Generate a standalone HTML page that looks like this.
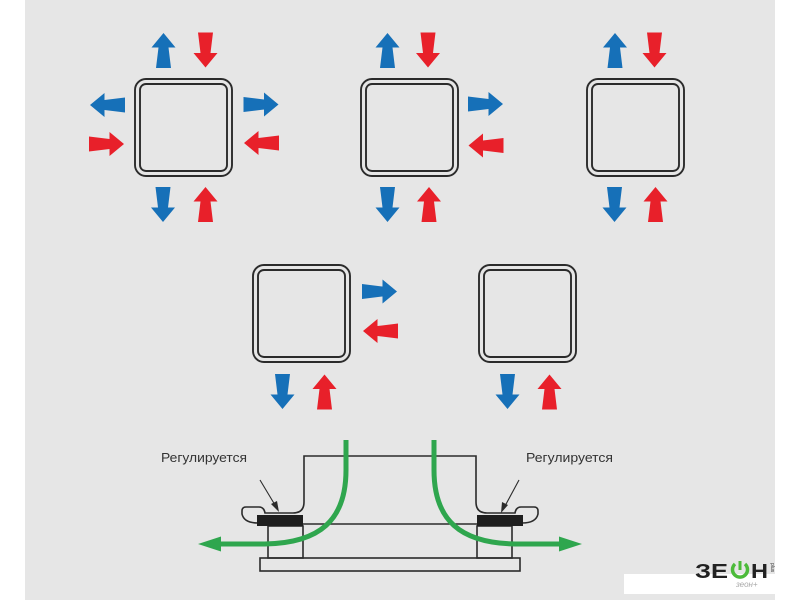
<!DOCTYPE html>
<html><head><meta charset="utf-8"><style>
html,body{margin:0;padding:0;background:#fff;}
svg{display:block;}
</style></head><body>
<svg width="800" height="600" viewBox="0 0 800 600" xmlns="http://www.w3.org/2000/svg">
<defs>
<polygon id="ar" points="-17.5,-7.5 3,-5 3,-12 17.5,0 3,12 3,5 -17.5,7.5"/>
<g id="sq">
<rect x="0" y="0" width="97" height="97" rx="11" fill="none" stroke="#2b2b2b" stroke-width="1.9"/>
<rect x="5" y="5" width="87" height="87" rx="6" fill="none" stroke="#2b2b2b" stroke-width="1.9"/>
</g>
</defs>
<rect x="25" y="0" width="750" height="600" fill="#e6e6e6"/>

<!-- squares -->
<use href="#sq" x="135" y="79"/>
<use href="#sq" x="361" y="79"/>
<use href="#sq" x="587" y="79"/>
<use href="#sq" x="253" y="265"/>
<use href="#sq" x="479" y="265"/>

<g fill="#1670b8">
<use href="#ar" transform="translate(163.5,50.5) rotate(-90)"/>
<use href="#ar" transform="translate(107.5,105) rotate(180)"/>
<use href="#ar" transform="translate(261,104.5)"/>
<use href="#ar" transform="translate(163,204.5) rotate(90)"/>
<use href="#ar" transform="translate(387.5,50.5) rotate(-90)"/>
<use href="#ar" transform="translate(485.5,104)"/>
<use href="#ar" transform="translate(387.5,204.5) rotate(90)"/>
<use href="#ar" transform="translate(615,50.5) rotate(-90)"/>
<use href="#ar" transform="translate(614.5,204.5) rotate(90)"/>
<use href="#ar" transform="translate(379.5,291.5)"/>
<use href="#ar" transform="translate(282.5,391.5) rotate(90)"/>
<use href="#ar" transform="translate(507.5,391.5) rotate(90)"/>
</g>
<g fill="#e8202a">
<use href="#ar" transform="translate(205.5,50) rotate(90)"/>
<use href="#ar" transform="translate(106.5,144)"/>
<use href="#ar" transform="translate(261.5,143) rotate(180)"/>
<use href="#ar" transform="translate(205.5,204.5) rotate(-90)"/>
<use href="#ar" transform="translate(428,50) rotate(90)"/>
<use href="#ar" transform="translate(486,145.5) rotate(180)"/>
<use href="#ar" transform="translate(429,204.5) rotate(-90)"/>
<use href="#ar" transform="translate(654.5,50) rotate(90)"/>
<use href="#ar" transform="translate(655.5,204.5) rotate(-90)"/>
<use href="#ar" transform="translate(380.5,331) rotate(180)"/>
<use href="#ar" transform="translate(324.5,392) rotate(-90)"/>
<use href="#ar" transform="translate(549.5,392) rotate(-90)"/>
</g>

<!-- bottom diagram -->
<g fill="none" stroke="#2b2b2b" stroke-width="1.6">
<path d="M304,502 L304,456 L476,456 L476,502"/>
<path d="M304,502 Q304,513 293,513 L265,513 Q264,507 259,507 L246,507 Q242,507 242,511 L242,514 Q244,523 258,523"/>
<path d="M476,502 Q476,513 487,513 L515,513 Q516,507 521,507 L534,507 Q538,507 538,511 L538,514 Q536,523 522,523"/>
<line x1="303" y1="524" x2="477" y2="524"/>
<rect x="268" y="526" width="35" height="32"/>
<rect x="477" y="526" width="35" height="32"/>
<rect x="260" y="558" width="260" height="13"/>
<line x1="260" y1="480" x2="275" y2="505" stroke-width="1.1"/>
<line x1="519" y1="480" x2="505" y2="506" stroke-width="1.1"/>
</g>
<polygon points="279,512 271,504 277,501" fill="#2b2b2b"/>
<polygon points="501,513 502,502 508,505" fill="#2b2b2b"/>
<rect x="257" y="515" width="46" height="11" fill="#1e1e1e"/>
<rect x="477" y="515" width="46" height="11" fill="#1e1e1e"/>

<g fill="none" stroke="#2fa64e" stroke-width="5">
<path d="M346,440 L346,470 C346,520 320,543 265,544 L216,544"/>
<path d="M434,440 L434,470 C434,520 460,543 515,544 L564,544"/>
</g>
<polygon points="198,544 221,536.5 221,551.5" fill="#2fa64e"/>
<polygon points="582,544 559,536.5 559,551.5" fill="#2fa64e"/>

<g font-family="Liberation Sans, sans-serif" font-size="13" fill="#333">
<text x="161" y="462" textLength="86" lengthAdjust="spacingAndGlyphs">Регулируется</text>
<text x="526" y="462" textLength="87" lengthAdjust="spacingAndGlyphs">Регулируется</text>
</g>

<!-- logo area -->
<rect x="624" y="574" width="151" height="20" fill="#ffffff"/>
<text x="695" y="578" font-family="Liberation Sans, sans-serif" font-weight="bold" font-size="20" fill="#222" textLength="33" lengthAdjust="spacingAndGlyphs">ЗЕ</text>
<path d="M735,564 A7.5,7.5 0 1 0 745,564" fill="none" stroke="#4cbb3a" stroke-width="3.5"/>
<line x1="740" y1="561" x2="740" y2="570" stroke="#4cbb3a" stroke-width="3"/>
<text x="751" y="578" font-family="Liberation Sans, sans-serif" font-weight="bold" font-size="20" fill="#222" textLength="17" lengthAdjust="spacingAndGlyphs">Н</text>
<text x="0" y="0" transform="translate(771,563) rotate(90)" font-family="Liberation Sans, sans-serif" font-size="5" fill="#333">plus</text>
<text x="736" y="587" font-family="Liberation Sans, sans-serif" font-style="italic" font-size="8" fill="#aaa">зеон+</text>
</svg>
</body></html>
